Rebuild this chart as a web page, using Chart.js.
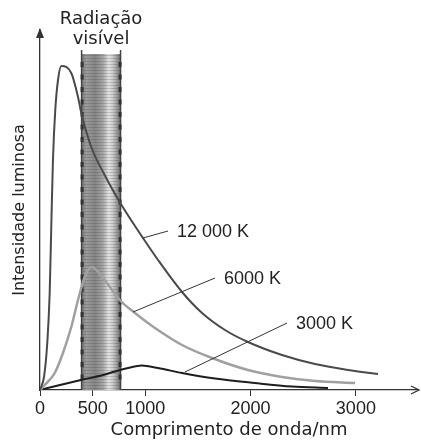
<!DOCTYPE html>
<html>
<head>
<meta charset="utf-8">
<script src="https://cdn.jsdelivr.net/npm/chart.js@4"></script>
<style>
  html, body { margin: 0; padding: 0; background: #fff; }
  #wrap { width: 421px; height: 441px; }
</style>
</head>
<body>
<div id="wrap"><canvas id="grafico"></canvas></div>
<script>
// comprimento de onda (nm) e intensidade (unidades arbitrárias)
const wl12000 = [0, 7, 38, 69, 92, 107, 123, 145, 171, 202, 297, 361, 392, 487, 614, 757, 871, 978, 1121, 1349, 1539, 1757, 1975, 2298, 2612, 2925, 3210];
const int12000 = [0, 2, 13, 47, 97, 163, 230, 280, 310, 324, 317, 293, 277, 243, 215, 188, 169, 152, 130, 98, 77, 60, 48, 35, 26, 20, 16];

const wl6000 = [0, 45, 140, 218, 297, 361, 425, 487, 614, 757, 902, 1092, 1349, 1634, 1975, 2298, 2612, 2992];
const int6000 = [0, 5, 17, 37, 63, 90, 113, 123, 110, 90, 77, 62, 45, 32, 20, 13, 9, 7];

const wl3000 = [0, 190, 389, 598, 712, 836, 966, 1121, 1349, 1662, 2042, 2393, 2735];
const int3000 = [0, 5, 10, 15, 18.5, 22, 24.5, 22, 17, 11.5, 7, 3.5, 2];

const xTicks = [0, 500, 1000, 2000, 3000];
const visibleBand = [395, 765];

// rótulos das curvas: [texto, início da linha, fim da linha] em (nm, intensidade)
const curveLabels = [
    ['12 000 K', [978, 152], [1216, 159]],
    ['6000 K', [883, 78], [1662, 112]],
    ['3000 K', [1377, 18], [2346, 67]]
];

function pontos(xs, ys) {
    return xs.map((v, i) => ({ x: v, y: ys[i] }));
}

const decoracao = {
    id: 'decoracao',
    beforeDatasetsDraw(chart) {
        const { ctx, scales: { x, y } } = chart;
        const left = x.getPixelForValue(visibleBand[0]);
        const right = x.getPixelForValue(visibleBand[1]);
        const top = y.getPixelForValue(336);
        const bottom = y.getPixelForValue(0);

        ctx.save();
        const g = ctx.createLinearGradient(left, 0, right, 0);
        g.addColorStop(0, '#7a7a7a');
        g.addColorStop(0.12, '#9c9c9c');
        g.addColorStop(0.35, '#868686');
        g.addColorStop(0.55, '#a6a6a6');
        g.addColorStop(0.7, '#e4e4e4');
        g.addColorStop(0.8, '#cccccc');
        g.addColorStop(0.92, '#969696');
        g.addColorStop(1, '#6a6a6a');
        ctx.fillStyle = g;
        ctx.fillRect(left, top, right - left, bottom - top);

        // listras horizontais
        ctx.strokeStyle = 'rgba(50,50,50,0.2)';
        ctx.lineWidth = 1;
        for (let yy = top + 1.5; yy < bottom; yy += 3) {
            ctx.beginPath();
            ctx.moveTo(left, yy);
            ctx.lineTo(right, yy);
            ctx.stroke();
        }
        // bordas
        ctx.strokeStyle = '#444';
        ctx.lineWidth = 1.5;
        ctx.beginPath();
        ctx.moveTo(left, top - 4);
        ctx.lineTo(left, bottom);
        ctx.moveTo(right, top - 4);
        ctx.lineTo(right, bottom);
        ctx.stroke();
        // marcas escuras nas bordas
        ctx.fillStyle = '#333';
        for (let yy = top + 8; yy < bottom - 4; yy += 12.5) {
            ctx.fillRect(left - 1, yy, 3, 5);
            ctx.fillRect(right - 2, yy, 3, 5);
        }

        ctx.fillStyle = '#222';
        ctx.font = '18px "DejaVu Sans"';
        ctx.textAlign = 'center';
        ctx.textBaseline = 'middle';
        const cx = (left + right) / 2;
        ctx.fillText('Radiação', cx, top - 35);
        ctx.fillText('visível', cx, top - 15);
        ctx.restore();
    },
    afterDatasetsDraw(chart) {
        const { ctx, scales: { x, y }, chartArea } = chart;
        ctx.save();
        ctx.strokeStyle = '#333';
        ctx.lineWidth = 1;
        ctx.fillStyle = '#222';
        ctx.font = '18px "Liberation Sans"';
        ctx.textAlign = 'left';
        ctx.textBaseline = 'middle';
        curveLabels.forEach(([texto, a, b]) => {
            const x1 = x.getPixelForValue(a[0]), y1 = y.getPixelForValue(a[1]);
            const x2 = x.getPixelForValue(b[0]), y2 = y.getPixelForValue(b[1]);
            ctx.beginPath();
            ctx.moveTo(x1, y1);
            ctx.lineTo(x2, y2);
            ctx.stroke();
            ctx.fillText(texto, x2 + 9, y2 + 1);
        });

        // setas dos eixos
        ctx.strokeStyle = '#333';
        ctx.lineWidth = 1.3;
        ctx.beginPath();
        ctx.moveTo(chartArea.right - 7, chartArea.bottom - 4);
        ctx.lineTo(chartArea.right + 1, chartArea.bottom);
        ctx.lineTo(chartArea.right - 7, chartArea.bottom + 4);
        ctx.stroke();
        ctx.fillStyle = '#333';
        ctx.beginPath();
        ctx.moveTo(chartArea.left, chartArea.top - 2);
        ctx.lineTo(chartArea.left - 4, chartArea.top + 8);
        ctx.lineTo(chartArea.left + 4, chartArea.top + 8);
        ctx.closePath();
        ctx.fill();
        ctx.restore();
    }
};

const ctx = document.getElementById('grafico').getContext('2d');
new Chart(ctx, {
    type: 'line',
    data: {
        datasets: [
            {
                label: '12 000 K',
                data: pontos(wl12000, int12000),
                borderColor: '#4a4a4a',
                borderWidth: 2,
                pointRadius: 0,
                cubicInterpolationMode: 'monotone',
                fill: false
            },
            {
                label: '6000 K',
                data: pontos(wl6000, int6000),
                borderColor: '#a0a0a0',
                borderWidth: 2.5,
                pointRadius: 0,
                cubicInterpolationMode: 'monotone',
                fill: false
            },
            {
                label: '3000 K',
                data: pontos(wl3000, int3000),
                borderColor: '#1e1e1e',
                borderWidth: 2,
                pointRadius: 0,
                cubicInterpolationMode: 'monotone',
                fill: false
            }
        ]
    },
    options: {
        responsive: true,
        maintainAspectRatio: false,
        animation: false,
        layout: { padding: { top: 30, right: 3, bottom: 0, left: 4 } },
        plugins: {
            legend: { display: false },
            tooltip: { enabled: false }
        },
        scales: {
            x: {
                type: 'linear',
                min: 0,
                max: 3590,
                afterBuildTicks: (scale) => {
                    scale.ticks = xTicks.map(v => ({ value: v }));
                },
                afterFit: (scale) => { scale.height = 51; },
                grid: {
                    display: true,
                    drawOnChartArea: false,
                    drawTicks: true,
                    tickLength: 6,
                    color: '#333'
                },
                border: { display: true, color: '#333', width: 1.3 },
                ticks: {
                    padding: 4,
                    color: '#222',
                    maxRotation: 0,
                    font: { family: 'Liberation Sans', size: 18, lineHeight: 1 },
                    callback: (v) => String(v)
                },
                title: {
                    display: true,
                    text: 'Comprimento de onda/nm',
                    color: '#222',
                    padding: { top: 0, bottom: 2 },
                    font: { family: 'DejaVu Sans', size: 18, lineHeight: 1 }
                }
            },
            y: {
                min: 0,
                max: 360,
                afterFit: (scale) => { scale.width = 36; },
                grid: { display: false },
                border: { display: true, color: '#333', width: 1.3 },
                ticks: { display: false },
                title: {
                    display: true,
                    text: 'Intensidade luminosa',
                    color: '#222',
                    padding: { top: 6, bottom: 10 },
                    font: { family: 'DejaVu Sans', size: 16 }
                }
            }
        }
    },
    plugins: [decoracao]
});
</script>
</body>
</html>
